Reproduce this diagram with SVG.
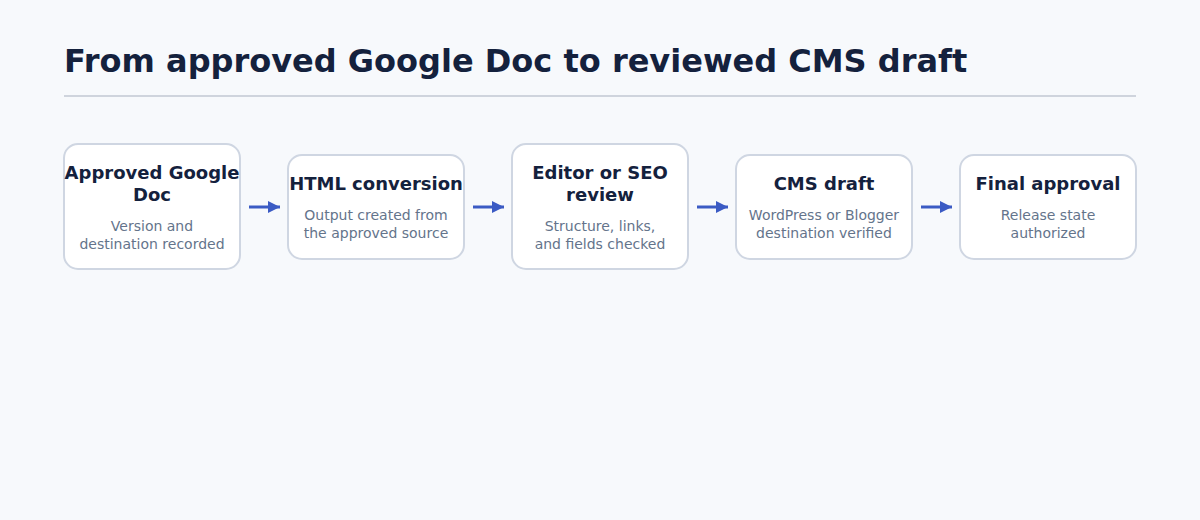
<svg xmlns="http://www.w3.org/2000/svg" width="1200" height="520" viewBox="0 0 1200 520">
<defs>
<style>
.bg{fill:#f7f9fc}
.box{fill:#ffffff;stroke:#cfd6e2;stroke-width:2}
.t{font-family:"DejaVu Sans",sans-serif;font-weight:bold;font-size:18px;fill:#14213d;text-anchor:middle}
.s{font-family:"DejaVu Sans",sans-serif;font-size:14px;fill:#64748b;text-anchor:middle}
.h{font-family:"DejaVu Sans",sans-serif;font-weight:bold;font-size:32px;fill:#14213d}
.c{stroke:#3b5bc4;stroke-width:3;fill:none}
</style>
<marker id="ah" viewBox="0 0 10 10" refX="10" refY="5" markerWidth="4" markerHeight="4" markerUnits="strokeWidth" orient="auto">
<path d="M0,0 L10,5 L0,10 z" fill="#3b5bc4"/>
</marker>
</defs>
<rect class="bg" x="0" y="0" width="1200" height="520"/>
<text class="h" x="64" y="72">From approved Google Doc to reviewed CMS draft</text>
<line x1="64" y1="96" x2="1136" y2="96" stroke="#cfd4dd" stroke-width="2"/>
<g id="connectors">
<line class="c" x1="249" y1="207" x2="280" y2="207" marker-end="url(#ah)"/>
<line class="c" x1="473" y1="207" x2="504" y2="207" marker-end="url(#ah)"/>
<line class="c" x1="697" y1="207" x2="728" y2="207" marker-end="url(#ah)"/>
<line class="c" x1="921" y1="207" x2="952" y2="207" marker-end="url(#ah)"/>
</g>
<g id="n1">
<rect class="box" x="64" y="144" width="176" height="125" rx="14"/>
<text class="t" x="152" y="179">Approved Google</text>
<text class="t" x="152" y="201">Doc</text>
<text class="s" x="152" y="231">Version and</text>
<text class="s" x="152" y="249">destination recorded</text>
</g>
<g id="n2">
<rect class="box" x="288" y="155" width="176" height="104" rx="14"/>
<text class="t" x="376" y="190">HTML conversion</text>
<text class="s" x="376" y="220">Output created from</text>
<text class="s" x="376" y="238">the approved source</text>
</g>
<g id="n3">
<rect class="box" x="512" y="144" width="176" height="125" rx="14"/>
<text class="t" x="600" y="179">Editor or SEO</text>
<text class="t" x="600" y="201">review</text>
<text class="s" x="600" y="231">Structure, links,</text>
<text class="s" x="600" y="249">and fields checked</text>
</g>
<g id="n4">
<rect class="box" x="736" y="155" width="176" height="104" rx="14"/>
<text class="t" x="824" y="190">CMS draft</text>
<text class="s" x="824" y="220">WordPress or Blogger</text>
<text class="s" x="824" y="238">destination verified</text>
</g>
<g id="n5">
<rect class="box" x="960" y="155" width="176" height="104" rx="14"/>
<text class="t" x="1048" y="190">Final approval</text>
<text class="s" x="1048" y="220">Release state</text>
<text class="s" x="1048" y="238">authorized</text>
</g>
</svg>
